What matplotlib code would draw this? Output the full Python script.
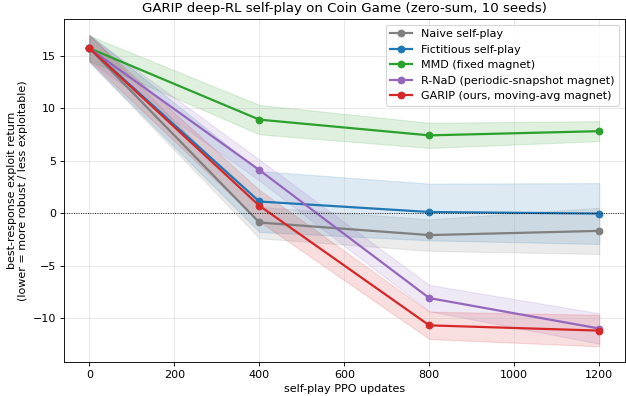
# exploitability curves for the self-play variants on Coin Game

import numpy as np
import matplotlib.pyplot as plt

updates = [0, 400, 800, 1200]

naive_mean = [15.7, -0.9, -2.1, -1.7]
naive_std = [1.3, 1.5, 1.5, 2.2]

fict_mean = [15.7, 1.1, 0.1, -0.05]
fict_std = [1.3, 2.9, 2.7, 2.9]

mmd_mean = [15.7, 8.9, 7.4, 7.8]
mmd_std = [1.2, 1.4, 1.2, 0.95]

rnad_mean = [15.7, 4.1, -8.1, -11.0]
rnad_std = [1.2, 1.0, 1.25, 1.45]

garip_mean = [15.7, 0.7, -10.7, -11.2]
garip_std = [1.2, 1.5, 1.3, 1.5]

runs = [
    ("Naive self-play", naive_mean, naive_std, "tab:gray"),
    ("Fictitious self-play", fict_mean, fict_std, "tab:blue"),
    ("MMD (fixed magnet)", mmd_mean, mmd_std, "tab:green"),
    ("R-NaD (periodic-snapshot magnet)", rnad_mean, rnad_std, "tab:purple"),
    ("GARIP (ours, moving-avg magnet)", garip_mean, garip_std, "tab:red"),
]

fig, ax = plt.subplots(figsize=(7.825, 4.95), dpi=80)

for name, mean, std, col in runs:
    mean = np.array(mean)
    std = np.array(std)
    ax.plot(updates, mean, "o-", color=col, lw=2, ms=6, label=name)
    ax.fill_between(updates, mean - std, mean + std, color=col, alpha=0.15)

ax.axhline(0, color="black", ls=":", lw=0.8)
ax.set_title("GARIP deep-RL self-play on Coin Game (zero-sum, 10 seeds)")
ax.set_xlabel("self-play PPO updates")
ax.set_ylabel("best-response exploit return\n(lower = more robust / less exploitable)")
ax.grid(alpha=0.3)
ax.legend(loc="upper right")

fig.subplots_adjust(left=0.102, right=0.998, top=0.952, bottom=0.086)
fig.savefig("out.png")
